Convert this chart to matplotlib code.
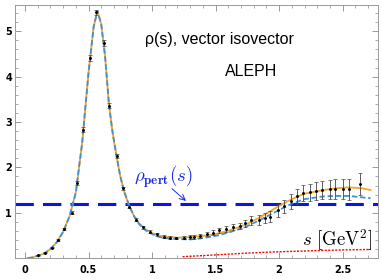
import numpy as np
import matplotlib
matplotlib.use("Agg")
import matplotlib.pyplot as plt
from matplotlib.ticker import MultipleLocator

plt.rcParams['mathtext.fontset'] = 'cm'

# ALEPH data points (s in GeV^2, rho, error)
s_data = [0.10, 0.16, 0.21, 0.26, 0.31, 0.37, 0.41, 0.46, 0.51, 0.56, 0.62, 0.66,
          0.72, 0.77, 0.82, 0.87, 0.93, 0.98, 1.04, 1.09, 1.14, 1.19, 1.25, 1.30,
          1.33, 1.38, 1.43, 1.48, 1.53, 1.58, 1.64, 1.69, 1.73, 1.78, 1.84, 1.89,
          1.93, 1.99, 2.04, 2.09, 2.14, 2.19, 2.24, 2.29, 2.34, 2.40, 2.44, 2.50,
          2.55, 2.64]
rho_data = [0.06, 0.12, 0.23, 0.40, 0.64, 1.00, 1.65, 2.83, 4.41, 5.42, 4.74, 3.36,
            2.25, 1.54, 1.13, 0.85, 0.68, 0.58, 0.52, 0.47, 0.45, 0.44, 0.45, 0.46,
            0.46, 0.49, 0.53, 0.56, 0.61, 0.64, 0.68, 0.71, 0.77, 0.83, 0.84, 0.88,
            0.91, 1.05, 1.14, 1.25, 1.36, 1.43, 1.45, 1.47, 1.51, 1.52, 1.52, 1.52,
            1.52, 1.63]
err_data = [0.01, 0.01, 0.01, 0.02, 0.02, 0.03, 0.04, 0.05, 0.06, 0.06, 0.06, 0.05,
            0.04, 0.03, 0.03, 0.03, 0.03, 0.03, 0.03, 0.03, 0.03, 0.03, 0.04, 0.04,
            0.05, 0.05, 0.05, 0.05, 0.06, 0.06, 0.07, 0.07, 0.08, 0.09, 0.10, 0.11,
            0.12, 0.14, 0.15, 0.16, 0.17, 0.18, 0.19, 0.20, 0.20, 0.21, 0.22, 0.22,
            0.23, 0.25]

# fit curves
s_fit = [0.02, 0.05, 0.10, 0.15, 0.20, 0.25, 0.30, 0.35, 0.40, 0.45, 0.50, 0.54,
         0.57, 0.60, 0.63, 0.66, 0.69, 0.72, 0.75, 0.78, 0.82, 0.86, 0.90, 0.95,
         1.00, 1.05, 1.10, 1.20, 1.30, 1.40, 1.50, 1.60, 1.73, 1.85, 2.00, 2.10,
         2.20, 2.35, 2.45, 2.55, 2.65, 2.72]
rho_orange = [0.00, 0.01, 0.05, 0.10, 0.20, 0.35, 0.58, 0.92, 1.45, 2.55, 4.10, 5.10,
              5.45, 5.15, 4.45, 3.40, 2.75, 2.25, 1.80, 1.47, 1.15, 0.92, 0.76, 0.63,
              0.55, 0.50, 0.47, 0.45, 0.46, 0.49, 0.53, 0.60, 0.73, 0.90, 1.15, 1.30,
              1.42, 1.50, 1.54, 1.56, 1.54, 1.50]
rho_blue = [0.00, 0.01, 0.05, 0.10, 0.20, 0.35, 0.58, 0.92, 1.45, 2.55, 4.10, 5.10,
            5.45, 5.15, 4.45, 3.40, 2.75, 2.25, 1.80, 1.47, 1.15, 0.91, 0.74, 0.61,
            0.53, 0.47, 0.44, 0.42, 0.41, 0.44, 0.49, 0.56, 0.68, 0.84, 1.06, 1.20,
            1.30, 1.36, 1.37, 1.37, 1.34, 1.32]

rho_pert = 1.19

s_red = [1.24, 1.50, 1.75, 2.00, 2.25, 2.50, 2.72]
rho_red = [0.03, 0.07, 0.11, 0.14, 0.16, 0.18, 0.19]

fig = plt.figure(figsize=(3.82, 2.79), dpi=100)
ax = fig.add_axes([0.039, 0.075, 0.951, 0.907])

ax.axhline(rho_pert, color='#0a14e6', lw=2.2, dashes=(6, 3))
ax.plot(s_fit, rho_orange, color='#f5a623', lw=1.3)
ax.plot(s_fit, rho_blue, color='#3d8fe0', lw=1.3, dashes=(3, 1.5))
ax.plot(s_red, rho_red, color='red', lw=1.0, dashes=(1.5, 1))
ax.errorbar(s_data, rho_data, yerr=err_data, fmt='o', ms=1.1, color='black',
            ecolor='#444444', elinewidth=0.6, capsize=1.5, capthick=0.5)

ax.set_xlim(-0.08, 2.78)
ax.set_ylim(0, 5.58)
ax.xaxis.set_minor_locator(MultipleLocator(0.1))
ax.yaxis.set_minor_locator(MultipleLocator(0.2))
ax.set_xticks([0, 0.5, 1, 1.5, 2, 2.5])
ax.set_yticks([1, 2, 3, 4, 5])
ax.set_xticklabels(['0', '0.5', '1', '1.5', '2', '2.5'], fontweight='bold')
ax.set_yticklabels(['1', '2', '3', '4', '5'], fontweight='bold')
ax.tick_params(which='both', direction='in', top=True, right=True, color='#888888',
               labelsize=7)
ax.tick_params(which='major', length=4, width=0.6)
ax.tick_params(which='minor', length=2, width=0.5)
ax.tick_params(axis='y', pad=2)
ax.tick_params(axis='x', pad=5)
for sp in ax.spines.values():
    sp.set_color('#999999')
    sp.set_linewidth(0.7)

ax.text(0.945, 4.81, 'ρ(s), vector isovector', fontsize=11.5, ha='left',
        va='center', family='Liberation Sans')
ax.text(1.78, 4.11, 'ALEPH', fontsize=11.5, ha='center', va='center',
        family='Liberation Sans')
ax.text(1.087, 1.79, r'$\rho_{\mathbf{pert}}(s)$', fontsize=13.5, color='#1a2be0',
        ha='center', va='center')
ax.annotate('', xy=(1.283, 1.22), xytext=(1.14, 1.57),
            arrowprops=dict(arrowstyle='->', color='#1a2be0', lw=0.7))
ax.text(2.73, 0.40, r'$s\ [\mathrm{GeV}^2]$', fontsize=13.5, ha='right', va='center')

fig.savefig('out.png', dpi=100)
